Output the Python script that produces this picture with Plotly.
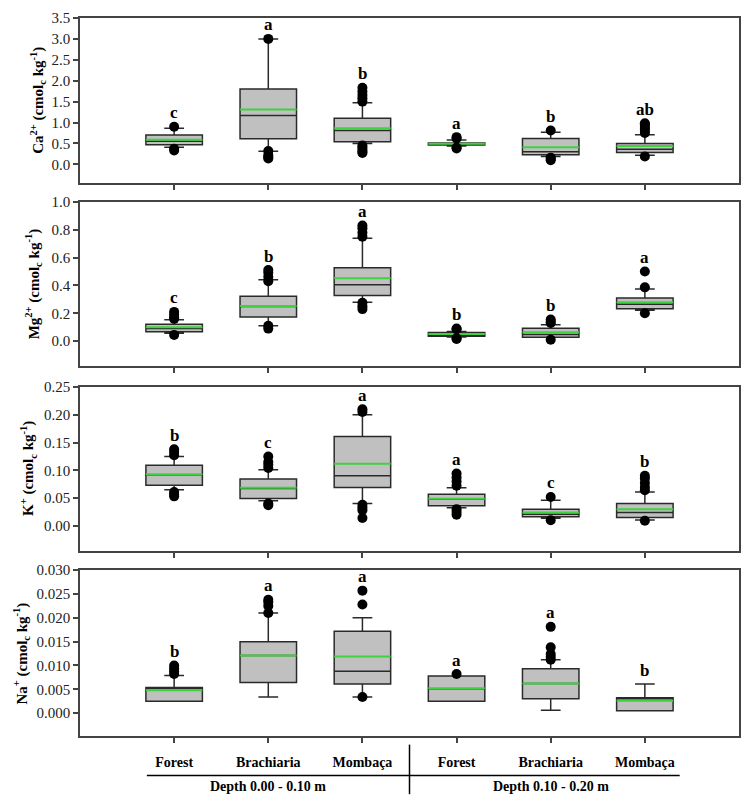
import plotly.graph_objects as go
from plotly.subplots import make_subplots

groups = ["Forest", "Brachiaria", "Mombaça", "Forest", "Brachiaria", "Mombaça"]
depths = ["Depth 0.00 - 0.10 m", "Depth 0.10 - 0.20 m"]

# Ca2+
ca_q1 = [0.47, 0.61, 0.54, 0.46, 0.23, 0.28]
ca_median = [0.55, 1.17, 0.81, 0.48, 0.30, 0.36]
ca_q3 = [0.70, 1.80, 1.10, 0.51, 0.62, 0.50]
ca_low = [0.41, 0.31, 0.50, 0.44, 0.19, 0.22]
ca_high = [0.86, 3.00, 1.47, 0.58, 0.77, 0.71]
ca_mean = [0.59, 1.31, 0.86, 0.49, 0.41, 0.44]
ca_out = [[0.90, 0.37, 0.33],
          [3.00, 0.32, 0.22, 0.17, 0.14],
          [1.50, 1.58, 1.66, 1.74, 1.83, 0.45, 0.40, 0.35, 0.30, 0.27],
          [0.62, 0.65, 0.40, 0.38],
          [0.81, 0.16, 0.13, 0.10],
          [0.75, 0.80, 0.85, 0.90, 0.95, 0.98, 0.19]]
ca_letters = ["c", "a", "b", "a", "b", "ab"]

# Mg2+
mg_q1 = [0.068, 0.174, 0.327, 0.035, 0.028, 0.233]
mg_median = [0.090, 0.248, 0.405, 0.045, 0.047, 0.264]
mg_q3 = [0.122, 0.322, 0.527, 0.062, 0.092, 0.310]
mg_low = [0.056, 0.110, 0.280, 0.030, 0.028, 0.221]
mg_high = [0.153, 0.440, 0.739, 0.070, 0.118, 0.374]
mg_mean = [0.099, 0.252, 0.452, 0.052, 0.064, 0.280]
mg_out = [[0.16, 0.17, 0.19, 0.21, 0.045],
          [0.43, 0.46, 0.49, 0.51, 0.11, 0.09],
          [0.75, 0.78, 0.81, 0.83, 0.275, 0.25, 0.23],
          [0.09, 0.085, 0.02, 0.015],
          [0.13, 0.14, 0.155, 0.01],
          [0.386, 0.50, 0.20]]
mg_letters = ["c", "b", "a", "b", "b", "a"]

# K+
k_q1 = [0.073, 0.049, 0.069, 0.036, 0.0165, 0.015]
k_median = [0.092, 0.067, 0.090, 0.048, 0.021, 0.024]
k_q3 = [0.109, 0.0845, 0.161, 0.057, 0.0296, 0.040]
k_low = [0.065, 0.045, 0.040, 0.0325, 0.0136, 0.0106]
k_high = [0.125, 0.101, 0.200, 0.0686, 0.046, 0.061]
k_mean = [0.093, 0.0686, 0.112, 0.0485, 0.024, 0.030]
k_out = [[0.127, 0.133, 0.138, 0.061, 0.057, 0.053],
         [0.104, 0.110, 0.115, 0.125, 0.040, 0.037],
         [0.205, 0.210, 0.038, 0.033, 0.028, 0.014],
         [0.072, 0.080, 0.087, 0.094, 0.030, 0.025, 0.020],
         [0.052, 0.010],
         [0.064, 0.070, 0.077, 0.085, 0.090, 0.009]]
k_letters = ["b", "c", "a", "a", "c", "b"]

# Na+
na_q1 = [0.0025, 0.0064, 0.0061, 0.0025, 0.0030, 0.0005]
na_median = [0.0053, 0.0121, 0.0088, 0.0051, 0.0062, 0.0032]
na_q3 = [0.0054, 0.0150, 0.0172, 0.0078, 0.0093, 0.0032]
na_low = [0.0025, 0.0034, 0.0034, 0.0025, 0.0006, 0.0005]
na_high = [0.0079, 0.0210, 0.0200, 0.0078, 0.0112, 0.0061]
na_mean = [0.0048, 0.0121, 0.0119, 0.0052, 0.0062, 0.0026]
na_out = [[0.0082, 0.0088, 0.0094, 0.0100],
          [0.0210, 0.0225, 0.0233, 0.0238],
          [0.0228, 0.0257, 0.0034],
          [0.0082],
          [0.0112, 0.0118, 0.0124, 0.0138, 0.0181],
          []]
na_letters = ["b", "a", "a", "a", "a", "b"]

panels = [
    ("<b>Ca<sup>2+</sup> (cmol<sub>c</sub> kg<sup>-1</sup>)</b>", ca_q1, ca_median, ca_q3, ca_low, ca_high,
     ca_mean, ca_out, ca_letters, [-0.45, 3.5], 0.5, ".1f"),
    ("<b>Mg<sup>2+</sup> (cmol<sub>c</sub> kg<sup>-1</sup>)</b>", mg_q1, mg_median, mg_q3, mg_low, mg_high,
     mg_mean, mg_out, mg_letters, [-0.18, 1.0], 0.2, ".1f"),
    ("<b>K<sup>+</sup> (cmol<sub>c</sub> kg<sup>-1</sup>)</b>", k_q1, k_median, k_q3, k_low, k_high,
     k_mean, k_out, k_letters, [-0.045, 0.25], 0.05, ".2f"),
    ("<b>Na<sup>+</sup> (cmol<sub>c</sub> kg<sup>-1</sup>)</b>", na_q1, na_median, na_q3, na_low, na_high,
     na_mean, na_out, na_letters, [-0.0048, 0.030], 0.005, ".3f"),
]

FONT = "Liberation Serif, Times New Roman, serif"
FRAME = "#444444"
xs = list(range(len(groups)))
domains = [[0.770, 1.0], [0.515, 0.744], [0.258, 0.486], [0.0, 0.231]]
# left edge of each rotated axis title, in paper units
title_x = [-0.083, -0.089, -0.097, -0.107]

fig = make_subplots(rows=4, cols=1)

for r, (title, q1, med, q3, low, high, mean, outs, letters, yr, dt, fmt) in enumerate(panels, start=1):
    fig.add_trace(go.Box(
        x=xs, q1=q1, median=med, q3=q3, lowerfence=low, upperfence=high,
        width=0.6, whiskerwidth=0.35, boxpoints=False,
        fillcolor="#c0c0c0", line=dict(color="#2a2a2a", width=1.5),
        hoverinfo="skip", showlegend=False), row=r, col=1)
    # mean line (green)
    fig.add_trace(go.Box(
        x=xs, q1=mean, median=mean, q3=mean, lowerfence=mean, upperfence=mean,
        width=0.6, whiskerwidth=0, boxpoints=False,
        fillcolor="rgba(0,0,0,0)", line=dict(color="#3fd23f", width=2),
        hoverinfo="skip", showlegend=False), row=r, col=1)
    ox, oy = [], []
    for i, vals in enumerate(outs):
        ox += [i] * len(vals)
        oy += vals
    fig.add_trace(go.Scatter(
        x=ox, y=oy, mode="markers",
        marker=dict(color="black", size=10),
        hoverinfo="skip", showlegend=False), row=r, col=1)
    for i, lab in enumerate(letters):
        top = max([high[i]] + outs[i])
        fig.add_annotation(x=i, y=top, text="<b>%s</b>" % lab, showarrow=False,
                           yanchor="middle", yshift=14,
                           font=dict(family=FONT, size=17, color="black"),
                           row=r, col=1)
    yname = "y" if r == 1 else "y%d" % r
    fig.add_annotation(x=title_x[r - 1], y=0.5, xref="paper", yref=yname + " domain",
                       text=title, textangle=-90, showarrow=False,
                       xanchor="left", yanchor="middle",
                       font=dict(family=FONT, size=15, color="black"))
    fig.update_yaxes(range=yr, tick0=0, dtick=dt, tickformat=fmt,
                     domain=domains[r - 1], row=r, col=1)
    fig.update_xaxes(range=[-1, 6], tickvals=xs, ticktext=["<b>%s</b>" % g for g in groups],
                     showticklabels=(r == 4), row=r, col=1)

fig.update_xaxes(showgrid=False, zeroline=False, showline=True, mirror=True,
                 linecolor=FRAME, linewidth=1.5, ticks="outside", ticklen=5,
                 tickcolor=FRAME, tickwidth=1.5,
                 tickfont=dict(family=FONT, size=14, color="black"))
fig.update_xaxes(ticklabelstandoff=7, row=4, col=1)
fig.update_yaxes(showgrid=False, zeroline=False, showline=True, mirror=True,
                 linecolor=FRAME, linewidth=1.5, ticks="outside", ticklen=5,
                 tickcolor=FRAME, tickwidth=1.5,
                 tickfont=dict(family=FONT, size=15, color="#222222"))

# depth group labels and separators under the bottom panel
for k, d in enumerate(depths):
    fig.add_annotation(x=1 + 3 * k, y=-0.070, xref="x4", yref="paper", text="<b>%s</b>" % d,
                       showarrow=False, yanchor="middle",
                       font=dict(family=FONT, size=14, color="black"))
fig.add_shape(type="line", xref="x4", yref="paper", x0=-0.29, x1=5.37, y0=-0.055, y1=-0.055,
              line=dict(color="black", width=1.5))
fig.add_shape(type="line", xref="x4", yref="paper", x0=2.5, x1=2.5, y0=-0.012, y1=-0.081,
              line=dict(color="black", width=1.5))

fig.update_layout(
    width=741, height=792,
    margin=dict(l=72, r=10, t=2, b=64),
    plot_bgcolor="white", paper_bgcolor="white",
    boxmode="overlay",
    font=dict(family=FONT, color="black"),
)

fig.write_html("out.html")
